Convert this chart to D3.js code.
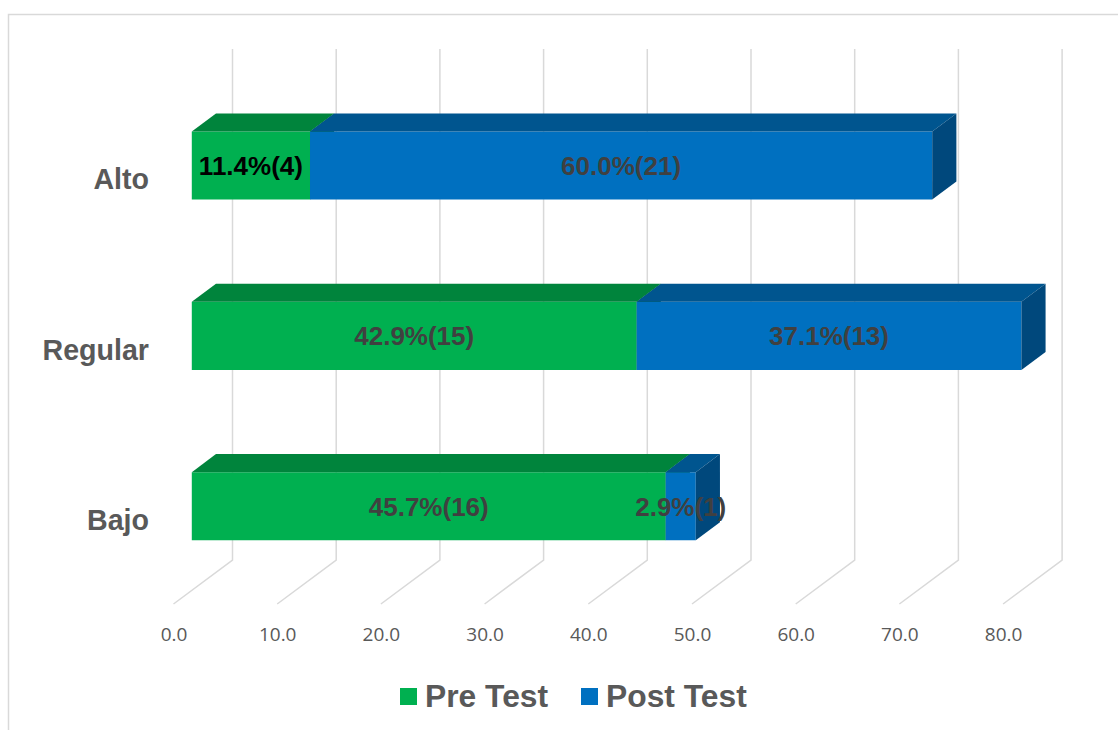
<!DOCTYPE html>
<html>
<head>
<meta charset="utf-8">
<script src="https://cdn.jsdelivr.net/npm/d3@7"></script>
<style>
  html, body { margin: 0; padding: 0; background: #fff; }
  svg { display: block; }
</style>
</head>
<body>
<div id="chart"></div>
<script>
// data
const categories = ['Alto', 'Regular', 'Bajo'];
const seriesNames = ['Pre Test', 'Post Test'];
const preTest = [11.4, 42.9, 45.7];
const postTest = [60.0, 37.1, 2.9];
const preCounts = [4, 15, 16];
const postCounts = [21, 13, 1];
const tickValues = [0, 10, 20, 30, 40, 50, 60, 70, 80];

const W = 1118, H = 730;
const colors = {
    pre: { front: '#00B050', top: '#00843C', side: '#006E32' },
    post: { front: '#0070C0', top: '#00558F', side: '#00487C' }
};

// 3d projection: depth d in [0,1] shifts right/up
const X0 = 173.5, DX = 59, DY = 44;
const FLOOR = 604, WALL_TOP = 49;
const D_FRONT = 0.31, D_BACK = 0.72;

const x = d3.scaleLinear().domain([0, 80]).range([0, 829.6]);
const y = d3.scaleBand().domain(categories)
    .range([WALL_TOP + DY + 1, FLOOR + 1])
    .paddingInner(0.6).paddingOuter(0.3);

const proj = (v, yy, d) => [X0 + x(v) + d * DX, yy - d * DY];

const svg = d3.select('#chart').append('svg')
    .attr('width', W).attr('height', H);

// outer border
svg.append('rect')
    .attr('x', 8.5).attr('y', 14.5)
    .attr('width', 1130).attr('height', 740)
    .attr('fill', 'none').attr('stroke', '#d9d9d9').attr('stroke-width', 1.5);

// gridlines: floor diagonal + back wall vertical
const grid = svg.append('g').attr('class', 'grid');
tickValues.forEach(t => {
    const f = proj(t, FLOOR, 0);
    const b = proj(t, FLOOR, 1);
    grid.append('polyline')
        .attr('points', [f, b, [b[0], WALL_TOP]].map(p => p.join(',')).join(' '))
        .attr('fill', 'none')
        .attr('stroke', '#d9d9d9')
        .attr('stroke-width', 1.5);
});

// axis labels along the floor front
const axis = d3.axisBottom(x)
    .tickValues(tickValues)
    .tickFormat(d3.format('.1f'))
    .tickSize(0)
    .tickPadding(24);

const axisG = svg.append('g')
    .attr('transform', `translate(${X0},${FLOOR})`)
    .call(axis);
axisG.select('.domain').remove();
axisG.selectAll('text')
    .attr('fill', '#595959')
    .style('font-family', '"Open Sans", "Liberation Sans", sans-serif')
    .style('font-size', '19px');

// bars
const bars = svg.append('g').attr('class', 'bars');

function drawBox(g, v0, v1, cat, c) {
    const yt = y(cat), yb = y(cat) + y.bandwidth();
    const ftl = proj(v0, yt, D_FRONT), ftr = proj(v1, yt, D_FRONT);
    const fbl = proj(v0, yb, D_FRONT), fbr = proj(v1, yb, D_FRONT);
    const btl = proj(v0, yt, D_BACK), btr = proj(v1, yt, D_BACK);
    const bbr = proj(v1, yb, D_BACK);
    const pts = arr => arr.map(p => p.join(',')).join(' ');
    g.append('polygon').attr('points', pts([ftl, ftr, fbr, fbl])).attr('fill', c.front);
    g.append('polygon').attr('points', pts([ftl, btl, btr, ftr])).attr('fill', c.top);
    g.append('polygon').attr('points', pts([ftr, btr, bbr, fbr])).attr('fill', c.side);
}

categories.forEach((cat, i) => {
    const g = bars.append('g');
    drawBox(g, 0, preTest[i], cat, colors.pre);
    drawBox(g, preTest[i], preTest[i] + postTest[i], cat, colors.post);
});

// data labels
const labels = svg.append('g').attr('class', 'labels')
    .style('font-family', '"Liberation Sans", Arial, sans-serif')
    .style('font-size', '26px')
    .style('font-weight', 'bold')
    .attr('text-anchor', 'middle');

categories.forEach((cat, i) => {
    const yc = y(cat) + y.bandwidth() / 2 - D_FRONT * DY + 9.5;
    const preX = proj(preTest[i] / 2, 0, D_FRONT)[0];
    const postX = proj(preTest[i] + postTest[i] / 2, 0, D_FRONT)[0];
    labels.append('text')
        .attr('x', preX).attr('y', yc)
        .attr('fill', i === 0 ? '#000000' : '#404040')
        .text(`${preTest[i].toFixed(1)}%(${preCounts[i]})`);
    labels.append('text')
        .attr('x', postX).attr('y', yc)
        .attr('fill', '#404040')
        .text(`${postTest[i].toFixed(1)}%(${postCounts[i]})`);
});

// category labels
svg.append('g')
    .selectAll('text')
    .data(categories)
    .join('text')
    .attr('x', 149)
    .attr('y', d => y(d) + y.bandwidth() / 2 + 10)
    .attr('text-anchor', 'end')
    .attr('fill', '#595959')
    .style('font-family', '"Liberation Sans", Arial, sans-serif')
    .style('font-size', '28.6px')
    .style('font-weight', 'bold')
    .text(d => d);

// legend
const legend = svg.append('g')
    .style('font-family', '"Liberation Sans", Arial, sans-serif')
    .style('font-size', '31.8px')
    .style('font-weight', 'bold');
const legendX = [400, 581];
seriesNames.forEach((name, i) => {
    legend.append('rect')
        .attr('x', legendX[i]).attr('y', 688)
        .attr('width', 17).attr('height', 17)
        .attr('fill', i === 0 ? colors.pre.front : colors.post.front);
    legend.append('text')
        .attr('x', legendX[i] + 25).attr('y', 707)
        .attr('fill', '#595959')
        .text(name);
});
</script>
</body>
</html>
